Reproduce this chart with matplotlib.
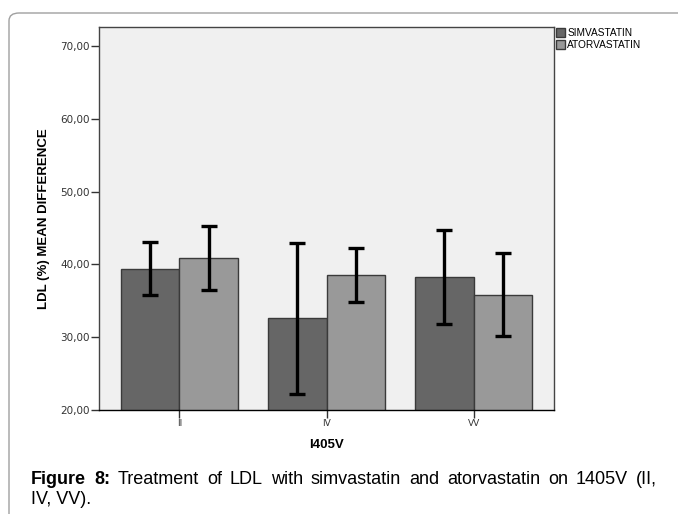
import numpy as np
import matplotlib
matplotlib.use("Agg")
import matplotlib.pyplot as plt
from matplotlib.patches import FancyBboxPatch

plt.rcParams['font.family'] = ['Liberation Sans', 'DejaVu Sans']

groups = ["II", "IV", "VV"]
simva_mean = [39.4, 32.6, 38.3]
simva_low = [35.8, 22.2, 31.8]
simva_high = [43.1, 43.0, 44.7]
atorva_mean = [40.9, 38.6, 35.8]
atorva_low = [36.5, 34.9, 30.1]
atorva_high = [45.3, 42.3, 41.5]

W, H = 678, 514
fig = plt.figure(figsize=(W / 100, H / 100), dpi=100)

# outer frame of the figure panel
frame = FancyBboxPatch((9 / W, -0.1), 1.2, 1 - 13 / H + 0.1,
                       boxstyle="round,pad=0,rounding_size=0.015",
                       transform=fig.transFigure, fc="none", ec="#a0a0a0",
                       lw=1.0, clip_on=False)
fig.patches.append(frame)

ax = fig.add_axes([98.7 / W, (H - 410) / H, 455.6 / W, 383 / H])
ax.set_facecolor("#f0f0f0")

x = np.arange(len(groups))
bw = 0.398
b1 = ax.bar(x - bw / 2, simva_mean, bw, color="#666666",
            edgecolor="#3a3a3a", lw=1, label="SIMVASTATIN", zorder=2)
b2 = ax.bar(x + bw / 2, atorva_mean, bw, color="#999999",
            edgecolor="#3a3a3a", lw=1, label="ATORVASTATIN", zorder=2)

for off, m, lo, hi in [(-bw / 2, simva_mean, simva_low, simva_high),
                       (bw / 2, atorva_mean, atorva_low, atorva_high)]:
    m = np.array(m)
    err = [m - np.array(lo), np.array(hi) - m]
    ax.errorbar(x + off, m, yerr=err, fmt="none", ecolor="black",
                elinewidth=2.4, capsize=5.5, capthick=2.4, zorder=3)

ax.set_ylim(20, 72.6)
ax.set_xlim(-0.548, 2.548)
ax.set_yticks([20, 30, 40, 50, 60, 70])
ax.set_yticklabels(["20,00", "30,00", "40,00", "50,00", "60,00", "70,00"],
                   fontsize=7.5, color="#333333", family="DejaVu Sans")
ax.set_xticks(x)
ax.set_xticklabels(groups, fontsize=6.5, color="#333333",
                   family="DejaVu Sans")
ax.tick_params(axis="both", length=5.5, width=1, color="#333333", pad=1)
for s in ax.spines.values():
    s.set_color("#444444")
    s.set_linewidth(1)
ax.spines["bottom"].set_color("black")

ax.set_ylabel("LDL (%) MEAN DIFFERENCE", fontsize=9.5, fontweight="bold",
              labelpad=7)
ax.set_xlabel("I405V", fontsize=9.5, fontweight="bold", labelpad=8)

fig.legend(handles=[b1, b2], loc="upper left",
           bbox_to_anchor=(556 / W, 1 - 28 / H), frameon=False,
           fontsize=7.3, handlelength=0.85, handleheight=0.85,
           handletextpad=0.25, labelspacing=0.2, borderpad=0,
           borderaxespad=0)

# caption, first line justified
line1 = [("Figure", "bold"), ("8:", "bold"), ("Treatment", "normal"),
         ("of", "normal"), ("LDL", "normal"), ("with", "normal"),
         ("simvastatin", "normal"), ("and", "normal"),
         ("atorvastatin", "normal"), ("on", "normal"), ("1405V", "normal"),
         ("(II,", "normal")]
x_left, x_right = 31, 657
y1 = 1 - 479 / H
texts = [fig.text(0, y1, w, fontsize=13, fontweight=wt, va="center",
                  ha="left") for w, wt in line1]
renderer = fig.canvas.get_renderer()
widths = [t.get_window_extent(renderer).width for t in texts]
gap = (x_right - x_left - sum(widths)) / (len(texts) - 1)
pos = x_left
for t, wd in zip(texts, widths):
    t.set_x(pos / W)
    pos += wd + gap
fig.text(x_left / W, 1 - 499 / H, "IV, VV).", fontsize=13, va="center",
         ha="left")

fig.savefig("out.png", dpi=100)
